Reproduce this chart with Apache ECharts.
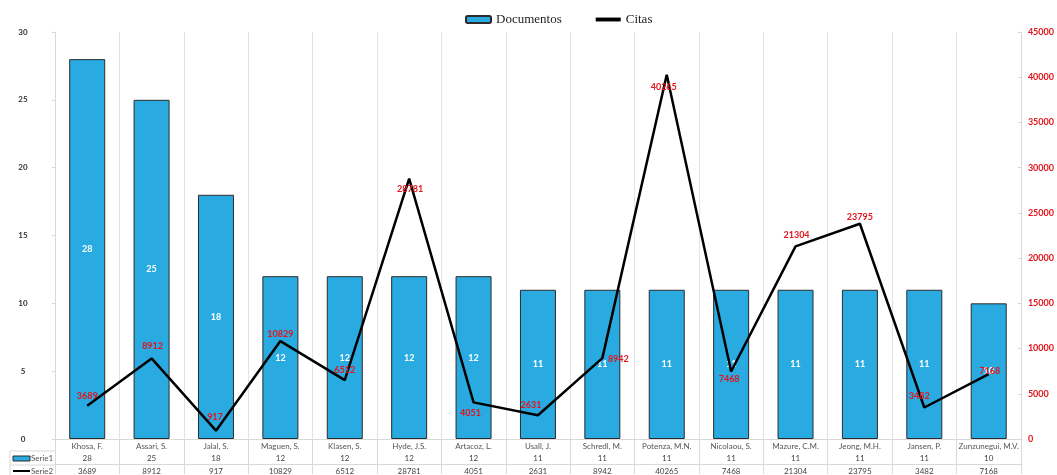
<!DOCTYPE html>
<html><head><meta charset="utf-8">
<script src="https://cdn.jsdelivr.net/npm/echarts@6/dist/echarts.min.js"></script>
<style>html,body{margin:0;padding:0;background:#fff}#c{width:1057px;height:475px}</style>
</head><body><div id="c"></div>
<script>
const autores = ['Khosa, F.', 'Assari, S.', 'Jalal, S.', 'Maguen, S.', 'Klasen, S.', 'Hyde, J.S.', 'Artacoz, L.', 'Usall, J.', 'Schredl, M.', 'Potenza, M.N.', 'Nicolaou, S.', 'Mazure, C.M.', 'Jeong, M.H.', 'Jansen, P.', 'Zunzunegui, M.V.'];
const documentos = [28, 25, 18, 12, 12, 12, 12, 11, 11, 11, 11, 11, 11, 11, 10];
const citas = [3689, 8912, 917, 10829, 6512, 28781, 4051, 2631, 8942, 40265, 7468, 21304, 23795, 3482, 7168];
const leftTicks = [0, 5, 10, 15, 20, 25, 30];
const rightTicks = [0, 5000, 10000, 15000, 20000, 25000, 30000, 35000, 40000, 45000];
// label offsets (style only)
const citaLabelOffset = [[0,-10],[1,-12],[-1,-14],[0,-7],[0,-10],[1,10],[-3,11],[-7,-10],[16,1],[-3,12],[-2,8],[1,-11],[0,-7],[-5,-11],[1,-3]];

const FONT = 'Lato';
const chart = echarts.init(document.getElementById('c'), null, {renderer: 'canvas'});
const gridColor = '#d9d9d9';
chart.setOption({
  animation: false,
  textStyle: {fontFamily: FONT},
  legend: {
    top: 8, left: 460, itemGap: 34, itemWidth: 25, itemHeight: 7, symbolKeepAspect: true,
    textStyle: {fontFamily: 'Liberation Serif', fontSize: 13, color: '#222'},
    data: [
      {name: 'Documentos'},
      {name: 'Citas', icon: 'path://M0,0 L16,0 L16,2.5 L0,2.5 Z', itemStyle: {color: '#000'}}
    ]
  },
  grid: {left: 55, right: 35, top: 32, bottom: 35, containLabel: false},
  xAxis: [
    {
      type: 'category', data: autores, gridIndex: 0, position: 'bottom',
      axisLine: {show: true, lineStyle: {color: gridColor}},
      axisTick: {show: true, length: 35, lineStyle: {color: gridColor}},
      axisLabel: {interval: 0, fontSize: 8, color: '#555', margin: 3, fontFamily: FONT},
      splitLine: {show: true, lineStyle: {color: '#e3e3e3'}}
    },
    {
      type: 'category', data: autores, gridIndex: 0, position: 'bottom', offset: 11,
      axisLine: {show: true, lineStyle: {color: gridColor}},
      axisTick: {show: false},
      axisLabel: {interval: 0, fontSize: 8, color: '#444', margin: 4, fontFamily: FONT,
        formatter: (v, i) => String(documentos[i])},
      splitLine: {show: false}
    },
    {
      type: 'category', data: autores, gridIndex: 0, position: 'bottom', offset: 25,
      axisLine: {show: true, lineStyle: {color: gridColor}},
      axisTick: {show: false},
      axisLabel: {interval: 0, fontSize: 8, color: '#444', margin: 3, fontFamily: FONT,
        formatter: (v, i) => String(citas[i])},
      splitLine: {show: false}
    }
  ],
  yAxis: [
    {
      type: 'value', min: leftTicks[0], max: leftTicks[leftTicks.length - 1], interval: 5,
      axisLine: {show: true, lineStyle: {color: gridColor}},
      axisTick: {show: true, length: 3, lineStyle: {color: gridColor}},
      axisLabel: {fontSize: 8, fontWeight: 'bold', color: '#333', margin: 32, align: 'center'},
      splitLine: {show: false}
    },
    {
      type: 'value', min: rightTicks[0], max: rightTicks[rightTicks.length - 1], interval: 5000,
      position: 'right',
      axisLine: {show: true, lineStyle: {color: gridColor}},
      axisTick: {show: true, inside: true, length: 3, lineStyle: {color: gridColor}},
      axisLabel: {fontSize: 9, fontWeight: 'bold', color: '#e3141c', margin: 7, formatter: v => String(v)},
      splitLine: {show: false}
    }
  ],
  series: [
    {
      name: 'Documentos', type: 'bar', xAxisIndex: 0, yAxisIndex: 0,
      data: documentos, barWidth: 36,
      itemStyle: {color: '#29abe2', borderColor: '#2b2b2b', borderWidth: 1},
      label: {show: true, position: 'inside', color: '#fff', fontWeight: 'bold', fontSize: 9, fontFamily: FONT}
    },
    {
      name: 'Citas', type: 'line', xAxisIndex: 0, yAxisIndex: 1,
      data: citas.map((v, i) => ({value: v, label: {offset: citaLabelOffset[i]}})),
      symbol: 'circle', symbolSize: 0.1, showSymbol: true,
      lineStyle: {color: '#000', width: 2.5},
      itemStyle: {color: '#000'},
      label: {show: true, position: 'inside', color: '#e3141c', fontWeight: 'bold', fontSize: 9, fontFamily: FONT}
    }
  ],
  graphic: [
    {type: 'line', shape: {x1: 10, y1: 451, x2: 55, y2: 451}, style: {stroke: gridColor, lineWidth: 1}},
    {type: 'line', shape: {x1: 10, y1: 465, x2: 55, y2: 465}, style: {stroke: gridColor, lineWidth: 1}},
    {type: 'line', shape: {x1: 10, y1: 451, x2: 10, y2: 475}, style: {stroke: gridColor, lineWidth: 1}},
    {type: 'rect', shape: {x: 13, y: 456, width: 17, height: 5}, style: {fill: '#29abe2', stroke: '#2b2b2b', lineWidth: 1}},
    {type: 'text', x: 31, y: 458.5, style: {text: 'Serie1', fontSize: 8, fill: '#555', fontFamily: FONT, verticalAlign: 'middle'}},
    {type: 'line', shape: {x1: 13, y1: 471, x2: 30, y2: 471}, style: {stroke: '#000', lineWidth: 2}},
    {type: 'text', x: 31, y: 471, style: {text: 'Serie2', fontSize: 8, fill: '#555', fontFamily: FONT, verticalAlign: 'middle'}}
  ]
});
</script>
</body></html>
